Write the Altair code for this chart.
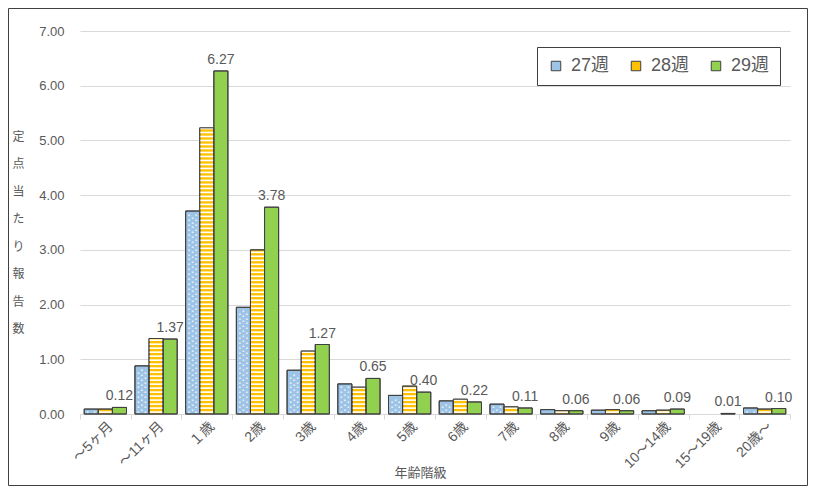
import altair as alt
import pandas as pd

categories = ["～5ヶ月", "～11ヶ月", "１歳", "2歳", "3歳", "4歳", "5歳", "6歳",
              "7歳", "8歳", "9歳", "10～14歳", "15～19歳", "20歳～"]
series = ["27週", "28週", "29週"]
w27 = [0.09, 0.88, 3.71, 1.95, 0.80, 0.55, 0.34, 0.24, 0.18, 0.08, 0.07, 0.06, 0.00, 0.11]
w28 = [0.09, 1.38, 5.23, 3.00, 1.15, 0.49, 0.51, 0.27, 0.13, 0.06, 0.08, 0.07, 0.00, 0.09]
w29 = [0.12, 1.37, 6.27, 3.78, 1.27, 0.65, 0.40, 0.22, 0.11, 0.06, 0.06, 0.09, 0.01, 0.10]
y_ticks = [0, 1, 2, 3, 4, 5, 6, 7]
y_title = ["定", "点", "当", "た", "り", "報", "告", "数"]

rows = []
for s, vals in zip(series, [w27, w28, w29]):
    for c, v in zip(categories, vals):
        rows.append({"group": c, "series": s, "value": v})
df = pd.DataFrame(rows)

FONT = "Liberation Sans, Noto Sans CJK JP, sans-serif"
GRAY = "#595959"
EDGE = "#404040"
W, H = 710, 383

xaxis = alt.Axis(title="年齢階級", labelAngle=-45, tickBand="extent", grid=False,
                 domainColor="#D9D9D9", tickColor="#D9D9D9", tickSize=5,
                 labelFontSize=14, labelColor=GRAY, labelFont=FONT, labelPadding=0,
                 titleFontSize=13, titleColor=GRAY, titleFont=FONT, titleFontWeight="normal",
                 titleX=340, titleY=58, titleBaseline="middle", titleAlign="center")
yaxis = alt.Axis(title=y_title, values=y_ticks, format=".2f", domain=False, ticks=False,
                 gridColor="#D9D9D9", labelFontSize=13, labelColor=GRAY, labelFont=FONT,
                 labelPadding=16, titleAngle=0, titleFontSize=12, titleColor=GRAY,
                 titleFont=FONT, titleFontWeight="normal", titleLineHeight=27.5,
                 titleX=-62, titleY=100, titleBaseline="top", titleAlign="center")

xs = alt.Scale(domain=categories, paddingInner=0, paddingOuter=0)
xos = alt.Scale(domain=series, paddingInner=0, paddingOuter=0.3)
ys = alt.Scale(domain=[0, 7])

X = alt.X("group:N", sort=categories, scale=xs, axis=xaxis)
XO = alt.XOffset("series:N", sort=series, scale=xos)
Y = alt.Y("value:Q", scale=ys, axis=yaxis)

color = alt.Color("series:N", scale=alt.Scale(domain=series, range=["#9DC3E6", "#FFC000", "#92D050"]),
                  title=None,
                  legend=alt.Legend(orient="none", legendX=457, legendY=16, direction="horizontal",
                                    symbolType="square", symbolSize=90, symbolStrokeColor=EDGE,
                                    symbolStrokeWidth=1, labelFontSize=18, labelColor=GRAY,
                                    labelFont=FONT, strokeColor=EDGE, fillColor="white",
                                    padding=10, columnPadding=17, labelOffset=6))

base = alt.Chart(df).transform_filter("datum.value > 0")
bars = base.mark_bar(stroke=EDGE, strokeWidth=1).encode(x=X, xOffset=XO, y=Y, color=color)

stripes = (base.transform_filter("datum.series == '28週'")
           .transform_calculate(s="sequence(0.02, datum.value - 0.02, 0.073)")
           .transform_flatten(["s"])
           .transform_calculate(s2="datum.s + 0.03")
           .mark_rect(color="white")
           .encode(x=X, xOffset=XO, y=alt.Y("s:Q", scale=ys, axis=yaxis), y2="s2:Q"))


def dots(start, dxs):
    src = (base.transform_filter("datum.series == '27週'")
           .transform_calculate(d=f"sequence({start}, datum.value - 0.04, 0.09)")
           .transform_flatten(["d"]))
    return [src.mark_text(text="■", fontSize=3, color="white", opacity=0.85, dx=dx, baseline="middle")
            .encode(x=X, xOffset=XO, y=alt.Y("d:Q", scale=ys, axis=yaxis)) for dx in dxs]


dot_layers = dots(0.04, [-3.5, 3.5]) + dots(0.085, [0])

outline = base.mark_bar(fill="transparent", stroke=EDGE, strokeWidth=1).encode(x=X, xOffset=XO, y=Y)

labels = (base.transform_filter("datum.series == '29週'")
          .mark_text(dy=-7, fontSize=14, color=GRAY, font=FONT, baseline="alphabetic")
          .encode(x=X, xOffset=XO, y=Y, text=alt.Text("value:Q", format=".2f")))

frame = alt.Chart(pd.DataFrame({"a": [0]})).mark_rect(fill="transparent", stroke=EDGE, strokeWidth=1).encode(
    x=alt.value(-71.5), x2=alt.value(W + 17.5), y=alt.value(-22.5), y2=alt.value(H + 71.5))

chart = alt.layer(bars, stripes, *dot_layers, outline, labels, frame).properties(
    width=W, height=H, autosize=alt.AutoSizeParams(type="none"),
    padding={"left": 72, "top": 23, "right": 18, "bottom": 72}
).configure_view(stroke=None)

chart.save("out.html", embed_options={"renderer": "svg", "actions": False})
